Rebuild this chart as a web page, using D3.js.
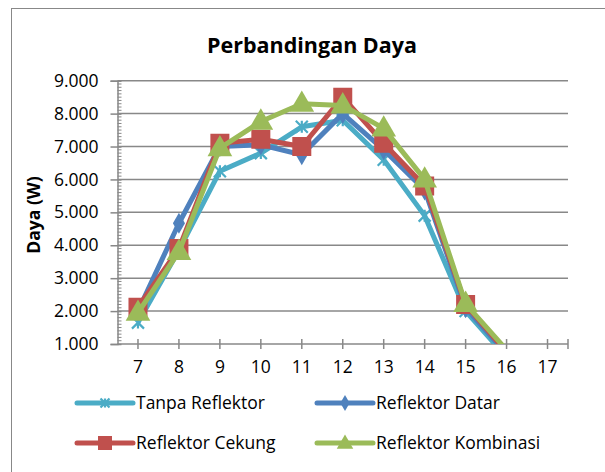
<!DOCTYPE html>
<html><head><meta charset="utf-8">
<script src="https://cdn.jsdelivr.net/npm/d3@7"></script>
<style>
body{margin:0;background:#fff;}
svg{display:block;font-family:"Open Sans","Noto Sans",sans-serif;}
</style></head>
<body><svg id="c" width="605" height="472"></svg>
<script>
const categories = [7,8,9,10,11,12,13,14,15,16,17];
const tanpaReflektor   = [1650,3850,6250,6800,7600,7800,6600,4900,2000,600,null];
const reflektorDatar   = [2000,4670,7000,7050,6750,8000,6900,5680,2100,700,null];
const reflektorCekung  = [2120,3900,7100,7220,7000,8500,7100,5800,2200,750,null];
const reflektorKombinasi = [1950,3800,6950,7760,8300,8250,7550,6000,2220,820,null];
const yTicks = [1000,2000,3000,4000,5000,6000,7000,8000,9000];
const seriesNames = ["Tanpa Reflektor","Reflektor Datar","Reflektor Cekung","Reflektor Kombinasi"];
const seriesColors = ["#4BACC6","#4F81BD","#C0504D","#9BBB59"];
const seriesMarkers = ["asterisk","diamond","square","triangle"];
const seriesValues = [tanpaReflektor,reflektorDatar,reflektorCekung,reflektorKombinasi];

const FONT = "'Open Sans','Noto Sans',sans-serif";
const FS = 17.5;
const svg = d3.select("#c");
const L=117.5, R=568, T=80.7, B=344;
const x = d3.scaleBand().domain(categories).range([L,R]);
const y = d3.scaleLinear().domain([1000,9000]).range([B,T]);
const cx = d => x(d)+x.bandwidth()/2;

// outer frame
svg.append("rect").attr("x",11.5).attr("y",8.5).attr("width",620).attr("height",480)
  .attr("fill","none").attr("stroke","#888").attr("stroke-width",1);

// title
svg.append("text").attr("x",312).attr("y",53).attr("text-anchor","middle")
  .attr("font-size",21.5).attr("font-weight","bold").text("Perbandingan Daya");

// gridlines
svg.append("g").selectAll("line").data(yTicks.slice(1)).join("line")
  .attr("x1",L).attr("x2",R).attr("y1",d=>y(d)).attr("y2",d=>y(d))
  .attr("stroke","#888").attr("stroke-width",1.5);

// y axis
const yAxis = d3.axisLeft(y).tickValues(yTicks).tickSize(7).tickPadding(12)
  .tickFormat(d=>d3.format(",")(d).replace(",","."));
const gy = svg.append("g").attr("transform",`translate(${L},0)`).call(yAxis);
gy.select(".domain").attr("stroke","#888").attr("stroke-width",1.5);
gy.selectAll(".tick line").attr("stroke","#888").attr("stroke-width",1.5).attr("x2",-7).attr("x1",4);
gy.selectAll("text").attr("font-size",FS).attr("fill","#000").attr("font-family",FONT);
// minor ticks
const minor = d3.range(1100,9000,100).filter(v=>v%1000!==0);
svg.append("g").selectAll("line").data(minor).join("line")
  .attr("x1",L).attr("x2",L+4).attr("y1",d=>y(d)).attr("y2",d=>y(d))
  .attr("stroke","#888").attr("stroke-width",1);

// x axis
const xAxis = d3.axisBottom(x).tickSize(5).tickPadding(12);
const gx = svg.append("g").attr("transform",`translate(0,${B})`).call(xAxis);
gx.select(".domain").attr("d",`M${L},0H${R}`).attr("stroke","#888").attr("stroke-width",1.5);
gx.selectAll(".tick line").attr("y1",-5).attr("y2",5).attr("stroke","#888").attr("stroke-width",1.5);
gx.selectAll("text").attr("font-size",FS).attr("fill","#000").attr("font-family",FONT);
gx.append("line").attr("x1",R).attr("x2",R).attr("y1",-5).attr("y2",5).attr("stroke","#888").attr("stroke-width",1.5);

// y axis title
svg.append("text").attr("transform","translate(40,215) rotate(-90)").attr("text-anchor","middle")
  .attr("font-size",FS).attr("font-weight","bold").text("Daya (W)");

// clip
svg.append("clipPath").attr("id","clip").append("rect").attr("x",L).attr("y",T-20).attr("width",R-L).attr("height",B-T+20);

function marker(g, type, color, size){
  if(type==="asterisk"){
    const s=size/2;
    g.append("path").attr("d",`M${-s},${-s}L${s},${s}M${-s},${s}L${s},${-s}M0,${-s}V${s}`)
      .attr("stroke",color).attr("stroke-width",2.2).attr("fill","none");
  } else {
    const sym = type==="diamond"?d3.symbolDiamond:type==="square"?d3.symbolSquare:d3.symbolTriangle;
    const area = type==="square"? size*size : type==="triangle"? size*size*0.6 : size*size*0.75;
    g.append("path").attr("d",d3.symbol().type(sym).size(area)()).attr("fill",color)
      .attr("transform", type==="triangle"?"translate(0,1)":null);
  }
}

const plot = svg.append("g").attr("clip-path","url(#clip)");
const line = d3.line().defined(d=>d.v!==null).x(d=>cx(d.c)).y(d=>y(d.v));
seriesValues.forEach((vals,i)=>{
  const pts = categories.map((c,j)=>({c,v:vals[j]}));
  plot.append("path").datum(pts).attr("d",line).attr("fill","none")
    .attr("stroke",seriesColors[i]).attr("stroke-width",5).attr("stroke-linejoin","round");
  pts.filter(p=>p.v!==null && p.v>=1000).forEach(p=>{
    const g = plot.append("g").attr("transform",`translate(${cx(p.c)},${y(p.v)})`);
    marker(g, seriesMarkers[i], seriesColors[i], i===0?12:i===1?13:i===2?19:21);
  });
});

// legend
const legendPos = [[77,403],[317,403],[77,443],[317,443]];
seriesNames.forEach((n,i)=>{
  const [lx,ly]=legendPos[i];
  const g = svg.append("g").attr("transform",`translate(${lx},${ly})`);
  g.append("line").attr("x1",0).attr("x2",56).attr("stroke",seriesColors[i]).attr("stroke-width",5).attr("stroke-linecap","round");
  const m = g.append("g").attr("transform","translate(28,0)");
  marker(m, seriesMarkers[i], seriesColors[i], i===0?9:i===1?10:i===2?14:14);
  g.append("text").attr("x",59).attr("y",0).attr("dy","0.35em").attr("font-size",FS).text(n);
});
</script></body></html>
